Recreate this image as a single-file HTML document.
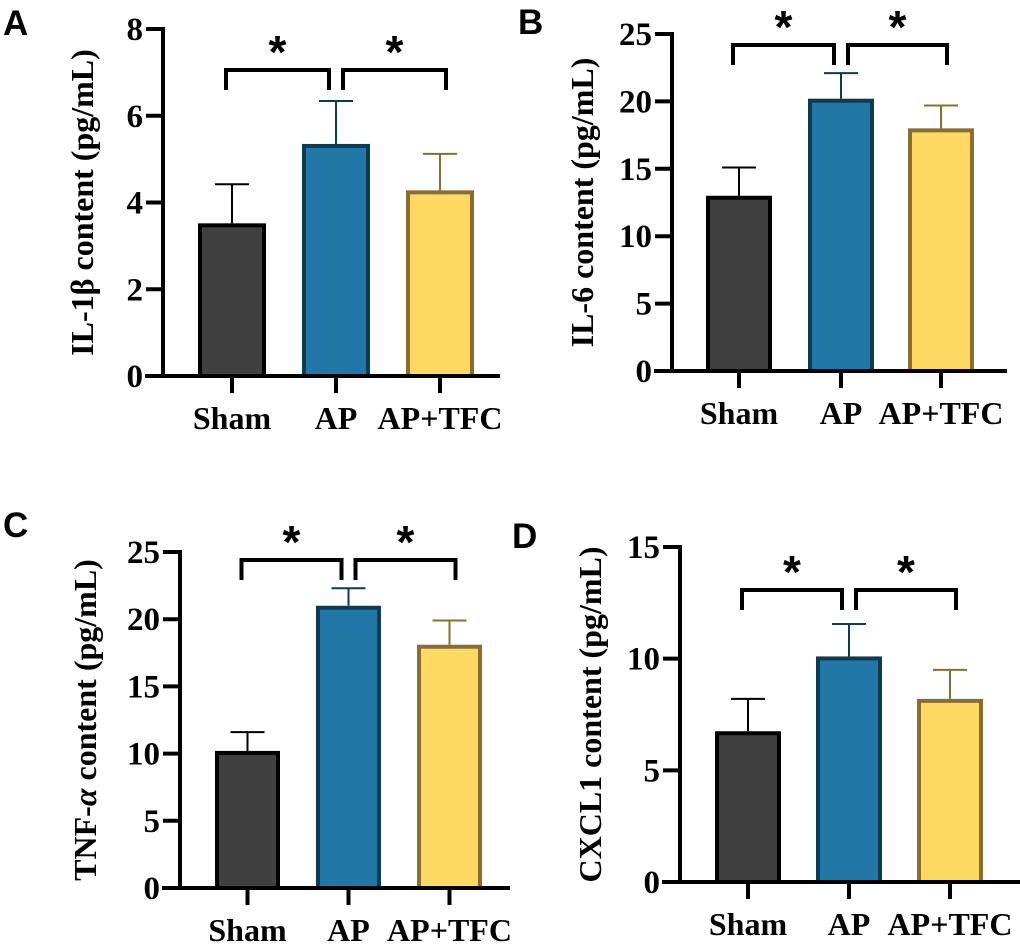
<!DOCTYPE html>
<html><head><meta charset="utf-8"><style>
body{margin:0;background:#fff}
svg{display:block}
text{font-family:"Liberation Serif",serif;font-weight:bold;fill:#000}
</style></head><body>
<svg id="c" width="1020" height="946" viewBox="0 0 1020 946" xmlns="http://www.w3.org/2000/svg"></svg>
<script>
const groups = ["Sham", "AP", "AP+TFC"];
const meansA = [3.52, 5.35, 4.28];
const errA = [4.42, 6.34, 5.12];
const meansB = [13.0, 20.2, 18.0];
const errB = [15.1, 22.1, 19.7];
const meansC = [10.2, 21.0, 18.1];
const errC = [11.6, 22.3, 19.9];
const meansD = [6.75, 10.1, 8.2];
const errD = [8.2, 11.55, 9.5];
const ticksA = [0, 2, 4, 6, 8];
const ticksB = [0, 5, 10, 15, 20, 25];
const ticksC = [0, 5, 10, 15, 20, 25];
const ticksD = [0, 5, 10, 15];

const svg = document.getElementById('c');
const NS = 'http://www.w3.org/2000/svg';
function mk(tag, attrs, parent){const e=document.createElementNS(NS,tag);for(const k in attrs)e.setAttribute(k,attrs[k]);(parent||svg).appendChild(e);return e;}
const fills=['#404040','#2177a5','#fdd963'];
const strokes=['#000','#0d3b52','#8b6d2e'];

function panel(p){
  const g=mk('g',{});
  
  
  const ymax=p.ticks[p.ticks.length-1];
  const y=v=>p.y0-(p.y0-p.yTop)*v/ymax;
  const L=mk('text',{x:p.lx,y:p.ly,'font-size':35,style:'font-family:"Liberation Sans",sans-serif'},g);L.textContent=p.letter;
  
  
  p.means.forEach((m,i)=>{
    const x0=p.barX[i], cx=x0+p.bw/2;
    const e=mk('line',{x1:cx,x2:cx,y1:y(m),y2:y(p.err[i]),stroke:strokes[i],'stroke-width':2},g);
    
    
    const c=mk('line',{x1:cx-17,x2:cx+17,y1:y(p.err[i]),y2:y(p.err[i]),stroke:strokes[i],'stroke-width':2},g);
    
    
    const r=mk('rect',{x:x0+2,y:y(m)+2,width:p.bw-4,height:y(0)-y(m)-2,fill:fills[i],stroke:strokes[i],'stroke-width':4},g);
    
    
    const t=mk('line',{x1:cx,x2:cx,y1:p.y0,y2:p.y0+17,stroke:'#000','stroke-width':4},g);
    
    
    const lb=mk('text',{x:cx,y:p.y0+53,'font-size':32,'text-anchor':'middle'},g);lb.textContent=groups[i];
    
    
  });
  const ya=mk('line',{x1:p.ax,x2:p.ax,y1:p.yTop-2,y2:p.y0+2,stroke:'#000','stroke-width':4},g);
  
  
  const xa=mk('line',{x1:p.ax-18,x2:p.xEnd,y1:p.y0,y2:p.y0,stroke:'#000','stroke-width':4},g);
  
  
  p.ticks.forEach(v=>{
    const t=mk('line',{x1:p.ax-17,x2:p.ax,y1:y(v),y2:y(v),stroke:'#000','stroke-width':4},g);
    
    
    const tl=mk('text',{x:p.ax-20,y:y(v)+11,'font-size':33,'text-anchor':'end'},g);tl.textContent=v;
    
    
  });
  const tt=mk('text',{x:0,y:0,'font-size':32,'text-anchor':'middle',transform:`translate(${p.tx},${(p.y0+p.yTop)/2}) rotate(-90)`},g);
  tt.innerHTML=p.title;
  
  
  const cx=p.barX.map(b=>b+p.bw/2);
  const by=p.by;
  [[cx[0]-6,cx[1]-7],[cx[1]+7,cx[2]+6]].forEach((s,k)=>{
    const b=mk('path',{d:`M${s[0]},${by+20}V${by}H${s[1]}V${by+20}`,fill:'none',stroke:'#000','stroke-width':4},g);
    
    
    const st=mk('text',{x:(s[0]+s[1])/2,y:by-2,'font-size':46,'text-anchor':'middle',style:'font-family:"Liberation Sans",sans-serif'},g);st.textContent='*';
    
    
  });
}
panel({letter:'A',lx:3,ly:35,means:meansA,err:errA,ticks:ticksA,ax:163,y0:376,yTop:29,barX:[198,302,406],bw:68,xEnd:500,tx:93,by:70,title:'IL-1β content (pg/mL)'});
panel({letter:'B',lx:518,ly:34,means:meansB,err:errB,ticks:ticksB,ax:672,y0:371,yTop:34,barX:[706,808,908],bw:66,xEnd:1007,tx:593,by:45,title:'IL-6 content (pg/mL)'});
panel({letter:'C',lx:3,ly:537,means:meansC,err:errC,ticks:ticksC,ax:180,y0:888,yTop:552,barX:[215,316,417],bw:65,xEnd:510,tx:96,by:560,title:'TNF-<tspan font-style="italic">α</tspan> content (pg/mL)'});
panel({letter:'D',lx:512,ly:548,means:meansD,err:errD,ticks:ticksD,ax:680,y0:882,yTop:547,barX:[715,816,917],bw:66,xEnd:1020,tx:601,by:590,title:'CXCL1 content (pg/mL)'});
</script>
</body></html>
